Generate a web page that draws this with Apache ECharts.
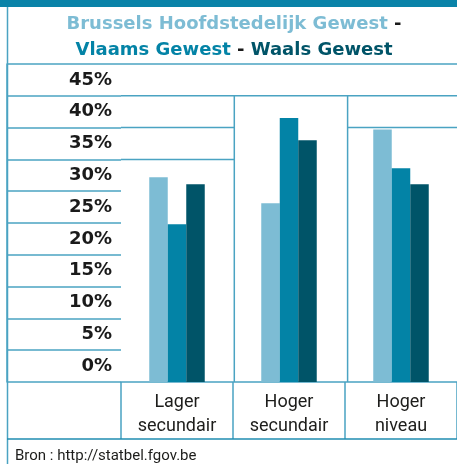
<!DOCTYPE html>
<html>
<head>
<meta charset="utf-8">
<script src="https://cdn.jsdelivr.net/npm/echarts@6/dist/echarts.min.js"></script>
<style>
  html, body { margin: 0; padding: 0; background: #fff; }
  #chart { width: 457px; height: 464px; }
</style>
</head>
<body>
<div id="chart"></div>
<script>
// data
const categories = ['Lager\nsecundair', 'Hoger\nsecundair', 'Hoger\nniveau']
const yLabels = ['0%', '5%', '10%', '15%', '20%', '25%', '30%', '35%', '40%', '45%']
const brussels = [32.2, 28.1, 39.7]
const vlaams = [24.8, 41.5, 33.6]
const waals = [31.1, 38.0, 31.1]

const C_LIGHT = '#7dbcd4'
const C_MID = '#0383a6'
const C_DARK = '#005468'
const LINE = '#4aa3c2'
const BOLD_FONT = "'DejaVu Sans', sans-serif"
const NARROW_FONT = 'Roboto, sans-serif'

// table layout
const gridTop = 64
const rowH = 31.8
const base = gridTop + rowH * 10
const colL = 121
const colW = 113.3
const labelBottom = 439

const chart = echarts.init(document.getElementById('chart'))

function hLine (x1, x2, y, color) {
  return { type: 'line', shape: { x1: x1, y1: y, x2: x2, y2: y }, style: { stroke: color || LINE, lineWidth: 1.5 }, z: 50 }
}
function vLine (x, y1, y2) {
  return { type: 'line', shape: { x1: x, y1: y1, x2: x, y2: y2 }, style: { stroke: LINE, lineWidth: 1.5 }, z: 50 }
}
function titlePart (color) {
  return { fill: color, fontSize: 18, fontWeight: 'bold', fontFamily: BOLD_FONT, lineHeight: 26 }
}

const option = {
  animation: false,
  grid: [
    { left: 7, top: gridTop, width: colL - 7, height: rowH * 10 },
    { left: colL, top: gridTop, width: colW * 3, height: rowH * 10 }
  ],
  xAxis: [
    { gridIndex: 0, type: 'value', show: false },
    {
      gridIndex: 1,
      type: 'category',
      data: categories,
      axisLine: { lineStyle: { color: LINE, width: 1.5 } },
      axisTick: { show: true, length: labelBottom - base, lineStyle: { color: LINE, width: 1.5 } },
      axisLabel: {
        interval: 0,
        margin: 8,
        color: '#1d1d1b',
        fontSize: 18,
        lineHeight: 24,
        fontFamily: NARROW_FONT
      },
      splitLine: { show: false }
    }
  ],
  yAxis: [
    {
      gridIndex: 0,
      type: 'category',
      data: yLabels,
      position: 'right',
      boundaryGap: true,
      axisLine: { show: true, lineStyle: { color: LINE, width: 1.5 } },
      axisTick: { show: false },
      axisLabel: {
        inside: true,
        margin: 9,
        color: '#1a1a1a',
        fontSize: 18,
        fontWeight: 'bold',
        fontFamily: BOLD_FONT
      },
      splitLine: { show: true, lineStyle: { color: LINE, width: 1.5 } }
    },
    {
      gridIndex: 1,
      type: 'value',
      min: 0,
      max: 50,
      interval: 5,
      show: false,
      splitLine: { show: false }
    }
  ],
  series: [
    { name: 'Brussels Hoofdstedelijk Gewest', type: 'bar', xAxisIndex: 1, yAxisIndex: 1, data: brussels, barWidth: 18.5, barGap: '0%', itemStyle: { color: C_LIGHT } },
    { name: 'Vlaams Gewest', type: 'bar', xAxisIndex: 1, yAxisIndex: 1, data: vlaams, barWidth: 18.5, barGap: '0%', itemStyle: { color: C_MID } },
    { name: 'Waals Gewest', type: 'bar', xAxisIndex: 1, yAxisIndex: 1, data: waals, barWidth: 18.5, barGap: '0%', itemStyle: { color: C_DARK } }
  ],
  graphic: [
    { type: 'rect', shape: { x: 0, y: 0, width: 457, height: 7 }, style: { fill: '#0a83a8' }, z: 60 },
    vLine(7.5, 7, 464),
    hLine(colL, 457, gridTop),
    hLine(colL, 457, gridTop + rowH),
    hLine(colL, colL + colW, gridTop + rowH * 2),
    hLine(colL + colW * 2, 457, gridTop + rowH * 2),
    hLine(colL, colL + colW, gridTop + rowH * 3),
    vLine(colL + colW, gridTop + rowH, base),
    vLine(colL + colW * 2, gridTop + rowH, base),
    hLine(7, 457, labelBottom, '#1f8cb0'),
    {
      type: 'text',
      x: 234,
      y: 37,
      style: {
        text: '{b|Brussels Hoofdstedelijk Gewest}{k| -}\n{v|Vlaams Gewest}{k| - }{w|Waals Gewest}',
        align: 'center',
        verticalAlign: 'middle',
        fontSize: 18,
        fontWeight: 'bold',
        fontFamily: BOLD_FONT,
        lineHeight: 26,
        rich: {
          b: titlePart(C_LIGHT),
          k: titlePart('#1a1a1a'),
          v: titlePart(C_MID),
          w: titlePart(C_DARK)
        }
      }
    },
    {
      type: 'text',
      x: 15,
      y: 456,
      style: {
        text: 'Bron : http://statbel.fgov.be',
        verticalAlign: 'middle',
        fill: '#1d1d1b',
        fontSize: 15,
        fontFamily: NARROW_FONT
      }
    }
  ]
}
chart.setOption(option)
</script>
</body>
</html>
